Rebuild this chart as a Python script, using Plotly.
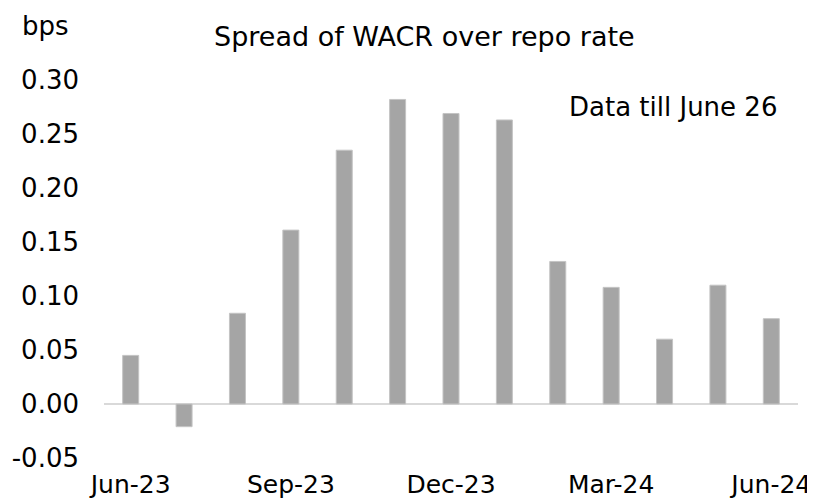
import plotly.graph_objects as go

months = ["Jun-23", "Jul-23", "Aug-23", "Sep-23", "Oct-23", "Nov-23", "Dec-23",
          "Jan-24", "Feb-24", "Mar-24", "Apr-24", "May-24", "Jun-24"]
spread = [0.045, -0.021, 0.084, 0.161, 0.235, 0.282, 0.269,
          0.263, 0.132, 0.108, 0.060, 0.110, 0.079]
tick_labels = ["Jun-23", "Sep-23", "Dec-23", "Mar-24", "Jun-24"]
y_ticks = [-0.05, 0.0, 0.05, 0.10, 0.15, 0.20, 0.25, 0.30]

FONT = "DejaVu Sans"
# page body has an 8px default margin, so the figure is sized 8px smaller
fig = go.Figure()
fig.add_trace(go.Bar(
    x=months, y=spread,
    marker=dict(color="#a5a5a5", line=dict(color="#c4c4c4", width=1)),
))
fig.update_layout(
    width=807, height=495,
    margin=dict(l=96, r=17, t=72, b=45, autoexpand=False),
    paper_bgcolor="white", plot_bgcolor="white",
    bargap=0.7,
    showlegend=False,
    font=dict(family=FONT, size=26, color="black"),
    xaxis=dict(
        type="category", range=[-0.5, 12.5],
        tickmode="array", tickvals=tick_labels, ticktext=tick_labels,
        showgrid=False, showline=False, ticks="", zeroline=False,
        tickfont=dict(family=FONT, size=25),
        ticklabelstandoff=9, automargin=False,
    ),
    yaxis=dict(
        range=[-0.05, 0.30],
        tickmode="array", tickvals=y_ticks,
        ticktext=[f"{v:.2f}" for v in y_ticks],
        showgrid=False, showline=False, ticks="",
        zeroline=True, zerolinecolor="#d9d9d9", zerolinewidth=2,
        tickfont=dict(family=FONT, size=26),
        ticklabelstandoff=24, automargin=False,
    ),
    annotations=[
        dict(text="Spread of WACR over repo rate", xref="paper", yref="paper",
             x=(424 - 104) / 694, y=1 + (80 - 36) / 378, xanchor="center", yanchor="middle",
             showarrow=False, font=dict(family=FONT, size=27)),
        dict(text="bps", xref="paper", yref="paper",
             x=(20 - 104) / 694, y=1 + (80 - 26) / 378, xanchor="left", yanchor="middle",
             showarrow=False, font=dict(family=FONT, size=26)),
        dict(text="Data till June 26", xref="paper", yref="paper",
             x=(779 - 104) / 694, y=1 - (107 - 80) / 378, xanchor="right", yanchor="middle",
             showarrow=False, font=dict(family=FONT, size=26)),
    ],
)
fig.write_html("out.html")
